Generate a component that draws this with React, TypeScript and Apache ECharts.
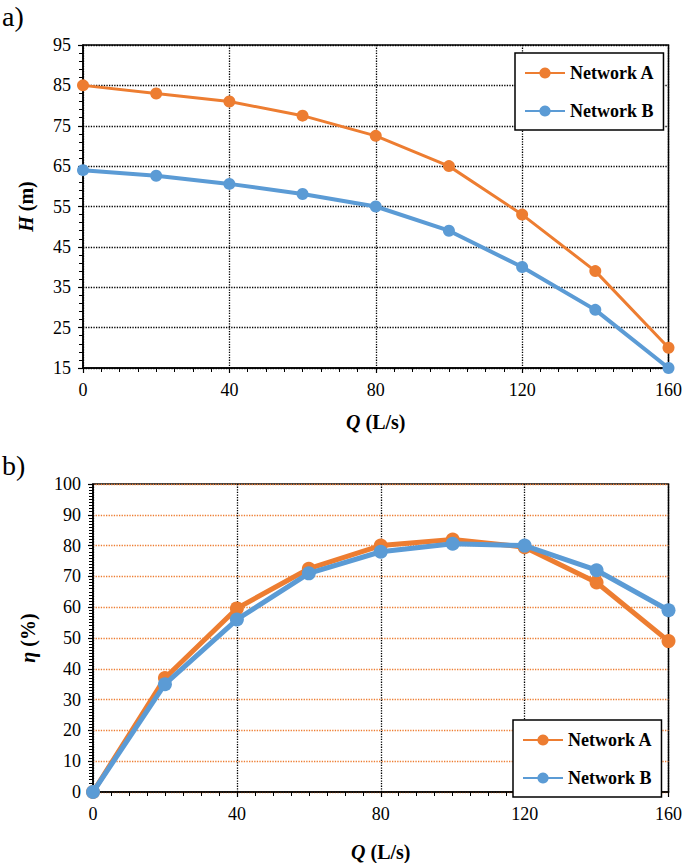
import React, { useEffect, useRef } from "react";
import * as echarts from "echarts";

const flows = [0, 20, 40, 60, 80, 100, 120, 140, 160];
const headA = [85, 83, 81, 77.5, 72.5, 65, 53, 39, 20];
const headB = [64, 62.6, 60.6, 58.1, 55, 49, 40, 29.4, 15];
const effA = [0, 37, 59.6, 72.5, 80, 82, 79.5, 68, 49];
const effB = [0, 35, 56, 71, 78, 80.6, 80, 72, 59];
const seriesNames = ["Network A", "Network B"];
const ORANGE = "#ED7D31";
const BLUE = "#5B9BD5";
const FONT = "'Liberation Serif', 'DejaVu Serif', serif";

const pairs = (ys: number[]) => flows.map((x, i) => [x, ys[i]]);

export default function App() {
  const ref = useRef<HTMLDivElement>(null);
  useEffect(() => {
    if (!ref.current) return;
    const chart = echarts.init(ref.current, undefined, { renderer: "svg" });
    const axisLabel = { color: "#000", fontFamily: FONT, fontSize: 18 };
    const nameStyle = {
      color: "#000",
      fontFamily: FONT,
      fontSize: 20,
      fontWeight: "bold" as const,
      rich: {
        i: { fontStyle: "italic", fontWeight: "bold", fontFamily: FONT, fontSize: 20, color: "#000" },
        n: { fontWeight: "bold", fontFamily: FONT, fontSize: 20, color: "#000" },
      },
    };
    const xAxisBase = (gridIndex: number, gap: number) => ({
      type: "value",
      gridIndex,
      min: 0,
      max: 160,
      interval: 40,
      name: "{i|Q} {n|(L/s)}",
      nameLocation: "middle",
      nameGap: gap,
      nameTextStyle: nameStyle,
      axisLine: { show: true, onZero: false, lineStyle: { color: "#000", width: 1.5 } },
      axisTick: { show: true, length: 5, lineStyle: { color: "#000", width: 1.2 } },
      minorTick: { show: true, splitNumber: 8, length: 4, lineStyle: { color: "#000", width: 1 } },
      axisLabel: { ...axisLabel, margin: 13 },
      splitLine: { show: true, lineStyle: { color: "#000", type: "dotted", width: 1.3 } },
    });
    const legendBase = (left: number, top: number) => ({
      data: seriesNames,
      orient: "vertical",
      left,
      top,
      backgroundColor: "#fff",
      borderColor: "#000",
      borderWidth: 1.5,
      borderRadius: 0,
      padding: [11, 9, 10, 9],
      itemWidth: 40,
      itemHeight: 14,
      itemGap: 20,
      textStyle: { color: "#000", fontFamily: FONT, fontSize: 18, fontWeight: "bold" },
    });
    const line = (
      name: string,
      data: number[],
      color: string,
      width: number,
      idx: number,
      size: number
    ) => ({
      type: "line",
      name,
      xAxisIndex: idx,
      yAxisIndex: idx,
      data: pairs(data),
      symbol: "circle",
      symbolSize: size,
      color,
      lineStyle: { color, width },
      itemStyle: { color },
      z: name === "Network A" ? 3 : 4,
    });
    chart.setOption({
      animation: false,
      backgroundColor: "#fff",
      textStyle: { fontFamily: FONT, color: "#000" },
      grid: [
        { left: 83, top: 45, width: 587, height: 323, show: true, borderColor: "#000", borderWidth: 1.5, backgroundColor: "transparent" },
        { left: 93, top: 484, width: 579, height: 319, show: true, borderColor: "#000", borderWidth: 1.5, backgroundColor: "transparent" },
      ],
      xAxis: [xAxisBase(0, 44), xAxisBase(1, 50)],
      yAxis: [
        {
          type: "value",
          gridIndex: 0,
          min: 15,
          max: 95,
          interval: 10,
          name: "{i|H} {n|(m)}",
          nameLocation: "middle",
          nameGap: 47,
          nameTextStyle: nameStyle,
          axisLine: { show: true, lineStyle: { color: "#000", width: 1.5 } },
          axisTick: { show: true, length: 5, lineStyle: { color: "#000", width: 1.2 } },
          minorTick: { show: true, splitNumber: 5, length: 4, lineStyle: { color: "#000", width: 1 } },
          axisLabel: { ...axisLabel, margin: 12 },
          splitLine: { show: true, lineStyle: { color: "#000", type: "dotted", width: 1.3 } },
        },
        {
          type: "value",
          gridIndex: 1,
          min: 0,
          max: 100,
          interval: 10,
          name: "{i|η} {n|(%)}",
          nameLocation: "middle",
          nameGap: 55,
          nameTextStyle: nameStyle,
          axisLine: { show: true, lineStyle: { color: "#000", width: 1.5 } },
          axisTick: { show: true, length: 5, lineStyle: { color: "#000", width: 1.2 } },
          minorTick: { show: true, splitNumber: 10, length: 4, lineStyle: { color: "#000", width: 1 } },
          axisLabel: { ...axisLabel, margin: 12 },
          splitLine: { show: true, lineStyle: { color: ORANGE, type: "dotted", width: 1.3 } },
        },
      ],
      legend: [legendBase(515, 53), legendBase(513, 720)],
      series: [
        line("Network A", headA, ORANGE, 3, 0, 12),
        line("Network B", headB, BLUE, 4, 0, 12),
        line("Network A", effA, ORANGE, 5, 1, 14),
        line("Network B", effB, BLUE, 5, 1, 14),
      ],
      graphic: [
        { type: "text", left: 2, top: 2, style: { text: "a)", font: `28px ${FONT}`, fill: "#000" } },
        { type: "text", left: 2, top: 451, style: { text: "b)", font: `28px ${FONT}`, fill: "#000" } },
      ],
    });
    return () => chart.dispose();
  }, []);
  return (
    <div
      ref={ref}
      style={{ position: "absolute", left: 0, top: 0, width: 685, height: 863 }}
    />
  );
}
